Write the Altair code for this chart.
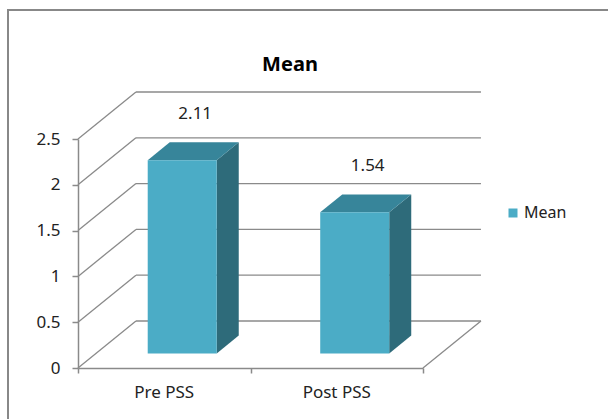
import altair as alt
import pandas as pd

# ---- chart values -------------------------------------------------------
categories = ["Pre PSS", "Post PSS"]
means = [2.11, 1.54]
series_name = "Mean"
chart_title = "Mean"
y_ticks = [0, 0.5, 1, 1.5, 2, 2.5]
x_bounds = [0, 1, 2]

# ---- styling / projection constants --------------------------------------
FONT = "Noto Sans"
GRID = "#8a8a8a"
FRONT = "#4bacc6"
TOP = "#37859a"
SIDE = "#2e6b7a"
DEPTH_X = 0.336      # wall depth, in x-units
DEPTH_Y = 0.513      # wall depth, in y-units
BAR_HALF = 0.2       # half of bar width, x-units
F1, F2 = 0.31, 0.69  # bar front / back position within the depth

X_SCALE = alt.Scale(domain=[0, 2], nice=False, zero=False)
Y_SCALE = alt.Scale(domain=[0, 2.5], nice=False, zero=False)
X_AXIS = alt.Axis(values=x_bounds, labels=False, grid=False, title=None,
                  domainColor=GRID, domainWidth=1.5,
                  tickColor=GRID, tickWidth=1.5, tickSize=5)
Y_AXIS = alt.Axis(values=y_ticks, grid=False, format="~g", title=None,
                  domainColor=GRID, domainWidth=1.5,
                  tickColor=GRID, tickWidth=1.5, tickSize=6,
                  labelPadding=12, labelFont=FONT, labelFontSize=17,
                  labelColor="#222222")


def xq(field):
    return alt.X(f"{field}:Q", scale=X_SCALE, axis=X_AXIS, title=None)


def yq(field):
    return alt.Y(f"{field}:Q", scale=Y_SCALE, axis=Y_AXIS, title=None)


# ---- walls: back-wall grid lines, side-wall diagonals, floor edge --------
walls = []
for v in y_ticks:
    walls.append(dict(x=0, y=v, x2=DEPTH_X, y2=v + DEPTH_Y))
    walls.append(dict(x=DEPTH_X, y=v + DEPTH_Y, x2=x_bounds[-1] + DEPTH_X, y2=v + DEPTH_Y))
walls.append(dict(x=x_bounds[-1], y=0, x2=x_bounds[-1] + DEPTH_X, y2=DEPTH_Y))
walls_df = pd.DataFrame(walls)

# ---- bar geometry --------------------------------------------------------
front_rows, top_rows, side_rows, label_rows, cat_rows = [], [], [], [], []
for i, (cat, v) in enumerate(zip(categories, means)):
    c = i + 0.5
    left, right = c - BAR_HALF, c + BAR_HALF
    front_rows.append(dict(cat=cat, series=series_name,
                           x=left + F1 * DEPTH_X, x2=right + F1 * DEPTH_X,
                           y=F1 * DEPTH_Y, y2=v + F1 * DEPTH_Y))
    for f in (F1, F2):
        top_rows.append(dict(cat=cat, y=v + f * DEPTH_Y,
                             x=left + f * DEPTH_X, x2=right + f * DEPTH_X))
        side_rows.append(dict(cat=cat, x=right + f * DEPTH_X,
                              y=f * DEPTH_Y, y2=v + f * DEPTH_Y))
    label_rows.append(dict(cat=cat, x=c + 0.5 * DEPTH_X, y=v + DEPTH_Y,
                           text=f"{v:.2f}"))
    cat_rows.append(dict(cat=cat, x=c, y=0))

front_df = pd.DataFrame(front_rows)
top_df = pd.DataFrame(top_rows)
side_df = pd.DataFrame(side_rows)
label_df = pd.DataFrame(label_rows)
cat_df = pd.DataFrame(cat_rows)

# ---- layers --------------------------------------------------------------
wall_layer = alt.Chart(walls_df).mark_rule(color=GRID, strokeWidth=1.3).encode(
    x=xq("x"), x2="x2:Q", y=yq("y"), y2="y2:Q",
)

side_layer = alt.Chart(side_df).mark_area(orient="vertical", color=SIDE).encode(
    x=xq("x"), y=yq("y"), y2="y2:Q", detail="cat:N",
)

top_layer = alt.Chart(top_df).mark_area(orient="horizontal", color=TOP).encode(
    y=yq("y"), x=xq("x"), x2="x2:Q", detail="cat:N",
)

front_layer = alt.Chart(front_df).mark_rect().encode(
    x=xq("x"), x2="x2:Q", y=yq("y"), y2="y2:Q",
    color=alt.Color("series:N", scale=alt.Scale(range=[FRONT]),
                    legend=alt.Legend(title=None, orient="none",
                                      legendX=427, legendY=66, padding=0,
                                      symbolType="square", symbolSize=81,
                                      symbolStrokeWidth=0,
                                      labelFont=FONT, labelFontSize=16,
                                      labelColor="#222222", labelOffset=3)),
)

value_labels = alt.Chart(label_df).mark_text(
    font=FONT, fontSize=17, color="#222222", baseline="middle", dy=-14, dx=2
).encode(x=xq("x"), y=yq("y"), text="text:N")

cat_labels = alt.Chart(cat_df).mark_text(
    font=FONT, fontSize=17, color="#222222", baseline="middle", dy=25
).encode(x=xq("x"), y=yq("y"), text="cat:N")

# chart title and outer frame (top and left edges), placed in view pixels
one_row = pd.DataFrame([{"title": chart_title}])
title_layer = alt.Chart(one_row).mark_text(
    font=FONT, fontSize=20, fontWeight="bold", color="#000000",
    baseline="middle", align="center"
).encode(x=alt.value(212), y=alt.value(-74), text="title:N")

frame_top = alt.Chart(one_row).mark_rule(color="#888888", strokeWidth=2).encode(
    x=alt.value(-70), x2=alt.value(540), y=alt.value(-129)
)
frame_left = alt.Chart(one_row).mark_rule(color="#888888", strokeWidth=2).encode(
    x=alt.value(-70), y=alt.value(-130), y2=alt.value(290)
)

chart = alt.layer(
    frame_top, frame_left, wall_layer, side_layer, top_layer, front_layer,
    value_labels, cat_labels, title_layer,
).properties(
    width=345,
    height=229,
    autosize=alt.AutoSizeParams(type="none"),
    padding={"left": 78, "top": 139, "right": 185, "bottom": 51},
).configure_view(stroke=None)

chart.save("out.html", embed_options={"renderer": "svg", "actions": False})
